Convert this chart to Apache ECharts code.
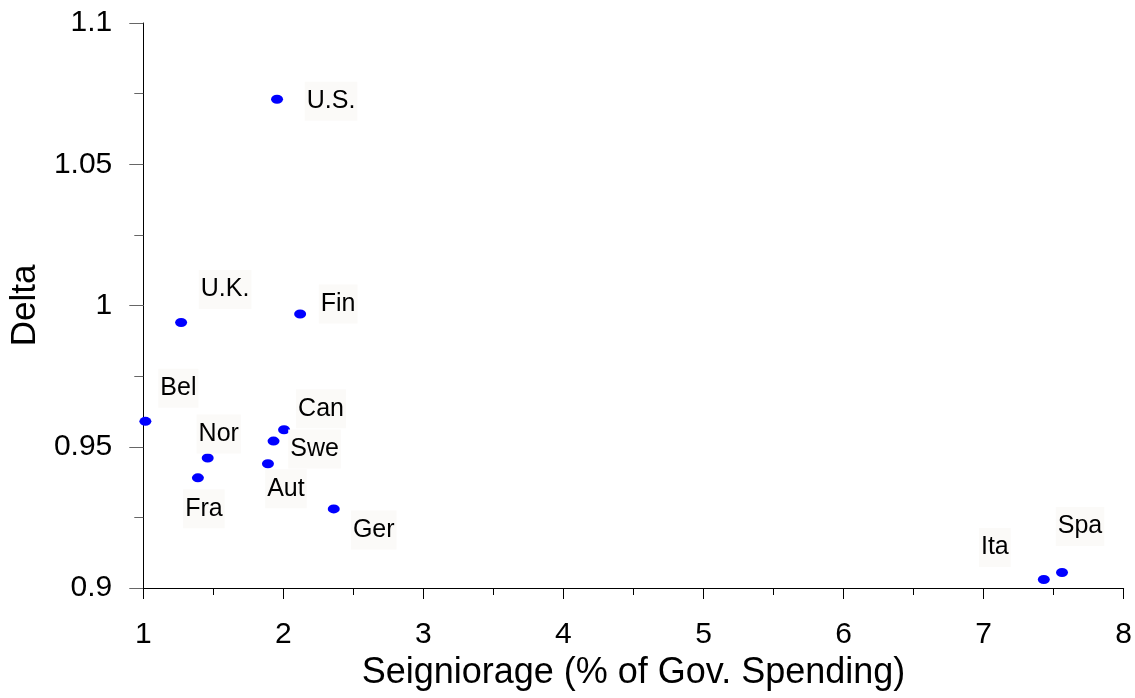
<!DOCTYPE html>
<html>
<head>
<meta charset="utf-8">
<title>Delta vs Seigniorage</title>
<script src="https://cdn.jsdelivr.net/npm/echarts@6/dist/echarts.min.js"></script>
<style>
  html, body { margin: 0; padding: 0; background: #fff; }
  #chart { width: 1135px; height: 698px; }
</style>
</head>
<body>
<div id="chart"></div>
<script>
// data
const countries = ['U.S.', 'U.K.', 'Fin', 'Bel', 'Can', 'Swe', 'Nor', 'Aut', 'Fra', 'Ger', 'Ita', 'Spa']
const seigniorage = [1.955, 1.27, 2.12, 1.015, 2.005, 1.93, 1.46, 1.89, 1.39, 2.36, 7.43, 7.56]
const delta = [1.073, 0.994, 0.997, 0.959, 0.956, 0.952, 0.946, 0.944, 0.939, 0.928, 0.903, 0.9055]

// where each name sits relative to its dot (px)
const labelOffsets = {
  'U.S.': [54, 2], 'U.K.': [44, -33], 'Fin': [38, -10], 'Bel': [33, -33],
  'Can': [37, -21], 'Swe': [41, 8], 'Nor': [11, -24], 'Aut': [18, 25],
  'Fra': [6, 31], 'Ger': [40, 21], 'Ita': [-49, -32], 'Spa': [18, -46]
}

const font = 'Liberation Sans, Arial, sans-serif'
const chart = echarts.init(document.getElementById('chart'))

const points = countries.map((name, i) => ({
  name: name,
  value: [seigniorage[i], delta[i]],
  label: { offset: labelOffsets[name] }
}))

chart.setOption({
  animation: false,
  grid: { left: 143, right: 11, top: 23, bottom: 110, containLabel: false },
  xAxis: {
    type: 'value',
    min: 1,
    max: 8,
    interval: 1,
    name: 'Seigniorage (% of Gov. Spending)',
    nameLocation: 'middle',
    nameGap: 66,
    nameTextStyle: { fontFamily: font, fontSize: 36, color: '#000' },
    axisLine: { onZero: false, lineStyle: { color: '#000', width: 1 } },
    axisTick: { show: true, length: 11, lineStyle: { color: '#000' } },
    minorTick: { show: true, splitNumber: 2, length: 7, lineStyle: { color: '#000' } },
    axisLabel: { fontFamily: font, fontSize: 30, color: '#000', margin: 32 },
    splitLine: { show: false }
  },
  yAxis: {
    type: 'value',
    min: 0.9,
    max: 1.1,
    interval: 0.05,
    name: 'Delta',
    nameLocation: 'middle',
    nameGap: 100,
    nameTextStyle: { fontFamily: font, fontSize: 35, color: '#000' },
    axisLine: { onZero: false, lineStyle: { color: '#000', width: 1 } },
    axisTick: { show: true, length: 14, lineStyle: { color: '#666' } },
    minorTick: { show: true, splitNumber: 2, length: 9, lineStyle: { color: '#666' } },
    axisLabel: { fontFamily: font, fontSize: 30, color: '#000', margin: 31 },
    splitLine: { show: false }
  },
  series: [{
    type: 'scatter',
    symbol: 'circle',
    symbolSize: [12, 9],
    itemStyle: { color: '#0000ff', opacity: 1 },
    label: {
      show: true,
      position: 'inside',
      formatter: '{b}',
      fontFamily: font,
      fontSize: 25,
      color: '#000',
      opacity: 1,
      backgroundColor: '#fbfaf8',
      padding: [7, 2]
    },
    data: points
  }]
})
</script>
</body>
</html>
